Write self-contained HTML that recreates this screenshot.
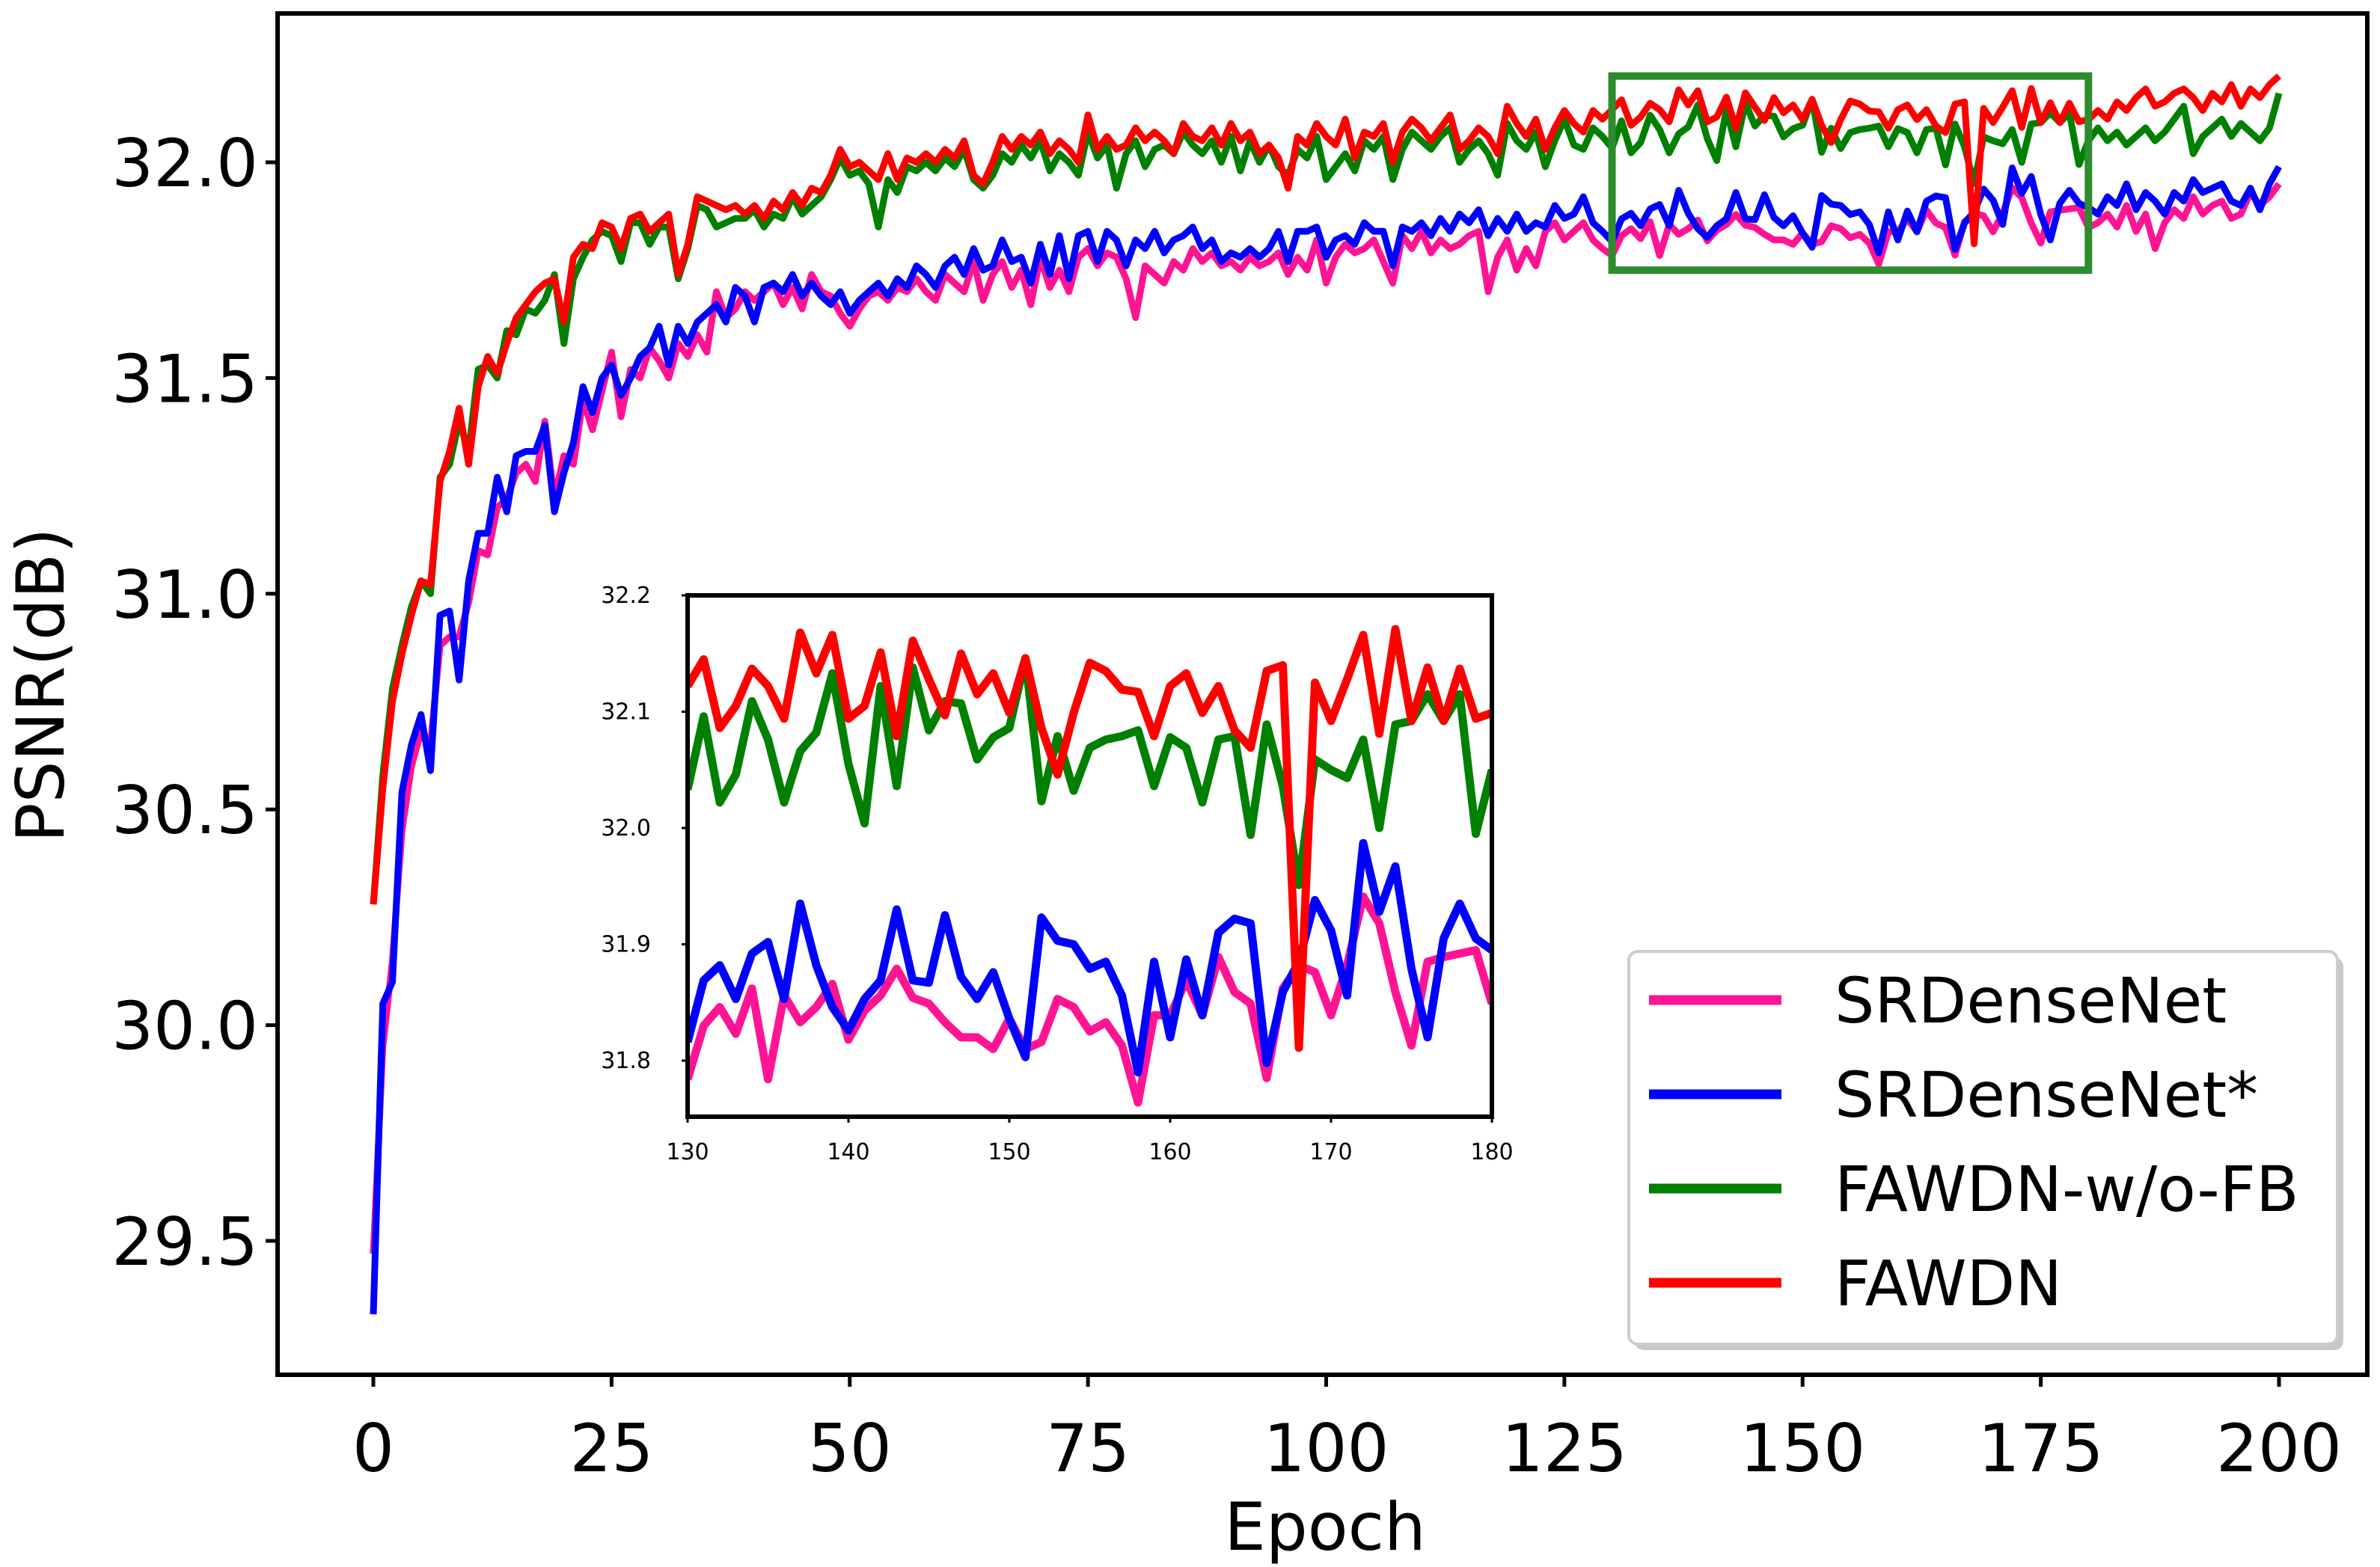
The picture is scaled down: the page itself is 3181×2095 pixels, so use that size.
<!DOCTYPE html>
<html><head><meta charset="utf-8">
<style>
html,body{margin:0;padding:0;background:#fff;overflow:hidden;}
svg{display:block;font-family:"DejaVu Sans","Liberation Sans",sans-serif;}
</style></head>
<body>
<svg id="chart" width="3181" height="2095" viewBox="0 0 3181 2095" xmlns="http://www.w3.org/2000/svg">
<rect width="3181" height="2095" fill="#fff"/>
</svg>
<script>
const epochsMax = 200;
const seriesNames = ["SRDenseNet","SRDenseNet*","FAWDN-w/o-FB","FAWDN"];
const seriesColors = ["#ff1493","#0000ff","#008000","#ff0000"];
const xTicks = [0,25,50,75,100,125,150,175,200];
const yTicks = [29.5,30.0,30.5,31.0,31.5,32.0];
const insetXTicks = [130,140,150,160,170,180];
const insetYTicks = [31.8,31.9,32.0,32.1,32.2];

// inset (epochs 130..180)
const redInset = [32.122,32.145,32.086,32.105,32.137,32.122,32.094,32.168,32.133,32.166,32.094,32.105,32.151,32.079,32.161,32.128,32.097,32.150,32.115,32.133,32.099,32.146,32.086,32.046,32.099,32.142,32.135,32.119,32.117,32.079,32.122,32.133,32.099,32.122,32.084,32.069,32.135,32.140,31.811,32.125,32.092,32.128,32.166,32.081,32.171,32.092,32.138,32.092,32.137,32.094,32.099];
const greenInset = [32.033,32.096,32.022,32.046,32.109,32.076,32.022,32.066,32.082,32.133,32.055,32.004,32.122,32.036,32.138,32.084,32.109,32.107,32.059,32.078,32.086,32.146,32.023,32.079,32.032,32.069,32.076,32.079,32.084,32.036,32.078,32.069,32.022,32.076,32.079,31.994,32.089,32.036,31.951,32.059,32.050,32.043,32.076,32.000,32.089,32.092,32.115,32.092,32.115,31.995,32.050];
const blueInset = [31.816,31.869,31.882,31.853,31.892,31.902,31.853,31.935,31.882,31.846,31.826,31.853,31.869,31.930,31.869,31.867,31.925,31.872,31.853,31.876,31.836,31.803,31.923,31.903,31.900,31.879,31.885,31.856,31.790,31.885,31.820,31.887,31.839,31.910,31.922,31.918,31.798,31.859,31.885,31.938,31.912,31.856,31.987,31.928,31.967,31.879,31.820,31.905,31.935,31.905,31.895];
const pinkInset = [31.784,31.830,31.846,31.823,31.862,31.784,31.856,31.833,31.846,31.866,31.818,31.843,31.856,31.879,31.854,31.849,31.833,31.820,31.820,31.810,31.836,31.810,31.816,31.853,31.846,31.825,31.833,31.813,31.764,31.839,31.839,31.869,31.839,31.889,31.859,31.849,31.785,31.862,31.882,31.876,31.839,31.882,31.941,31.918,31.859,31.813,31.885,31.889,31.892,31.895,31.849];

// epochs 0..129
const redHead = [30.28,30.55,30.75,30.86,30.95,31.03,31.02,31.26,31.33,31.43,31.30,31.48,31.55,31.51,31.58,31.64,31.67,31.70,31.72,31.73,31.63,31.78,31.81,31.80,31.86,31.85,31.80,31.87,31.88,31.84,31.86,31.88,31.74,31.81,31.92,31.91,31.90,31.89,31.90,31.88,31.90,31.87,31.91,31.89,31.93,31.90,31.94,31.93,31.97,32.03,31.99,32.00,31.98,31.96,32.02,31.96,32.01,32.00,32.02,32.00,32.03,32.01,32.05,31.97,31.95,32.00,32.06,32.03,32.06,32.04,32.07,32.02,32.05,32.03,32.00,32.11,32.03,32.06,32.03,32.04,32.08,32.05,32.07,32.05,32.02,32.09,32.06,32.05,32.08,32.04,32.09,32.05,32.07,32.02,32.04,32.01,31.94,32.06,32.04,32.09,32.06,32.04,32.10,32.01,32.07,32.06,32.09,32.00,32.07,32.10,32.08,32.05,32.08,32.11,32.03,32.05,32.08,32.06,32.02,32.13,32.09,32.06,32.10,32.03,32.08,32.12,32.09,32.07,32.12,32.10];
const greenHead = [30.28,30.58,30.78,30.88,30.97,31.03,31.00,31.27,31.30,31.40,31.33,31.52,31.53,31.50,31.61,31.60,31.66,31.65,31.68,31.74,31.58,31.73,31.78,31.82,31.84,31.83,31.77,31.86,31.86,31.81,31.85,31.85,31.73,31.80,31.90,31.89,31.85,31.86,31.87,31.87,31.89,31.85,31.88,31.87,31.92,31.88,31.90,31.92,31.96,32.01,31.97,31.98,31.95,31.85,31.96,31.93,31.99,31.98,32.00,31.98,32.01,31.99,32.03,31.96,31.94,31.97,32.02,32.00,32.04,32.01,32.05,31.98,32.02,32.00,31.97,32.07,32.01,32.04,31.94,32.02,32.05,31.99,32.03,32.04,32.02,32.07,32.04,32.02,32.05,32.00,32.06,31.98,32.05,32.00,32.04,31.99,31.97,32.03,32.01,32.06,31.96,31.99,32.02,31.98,32.05,32.03,32.06,31.96,32.03,32.07,32.05,32.03,32.06,32.08,32.00,32.03,32.05,32.02,31.97,32.09,32.05,32.03,32.07,31.99,32.05,32.10,32.04,32.03,32.08,32.06];
const blueHead = [29.33,30.05,30.10,30.54,30.65,30.72,30.59,30.95,30.96,30.80,31.03,31.14,31.14,31.27,31.19,31.32,31.33,31.33,31.39,31.19,31.28,31.35,31.48,31.42,31.50,31.53,31.46,31.50,31.55,31.57,31.62,31.53,31.62,31.58,31.63,31.65,31.67,31.63,31.71,31.69,31.63,31.71,31.72,31.70,31.74,31.69,31.72,31.69,31.67,31.70,31.65,31.68,31.70,31.72,31.69,31.73,31.71,31.76,31.74,31.71,31.76,31.78,31.74,31.80,31.75,31.76,31.82,31.77,31.78,31.72,31.81,31.74,31.83,31.73,31.83,31.84,31.77,31.84,31.82,31.76,31.82,31.80,31.84,31.79,31.82,31.83,31.85,31.80,31.82,31.77,31.79,31.78,31.80,31.78,31.80,31.84,31.77,31.84,31.84,31.85,31.78,31.82,31.83,31.81,31.86,31.84,31.84,31.76,31.85,31.84,31.86,31.83,31.87,31.84,31.88,31.86,31.89,31.83,31.87,31.84,31.88,31.84,31.86,31.85,31.90,31.87,31.88,31.92,31.86,31.84];
const pinkHead = [29.47,29.95,30.15,30.45,30.60,30.68,30.65,30.88,30.90,30.90,30.98,31.10,31.09,31.20,31.22,31.28,31.30,31.26,31.40,31.22,31.32,31.30,31.45,31.38,31.47,31.56,31.41,31.52,31.50,31.57,31.54,31.50,31.58,31.55,31.60,31.56,31.70,31.64,31.66,31.70,31.68,31.70,31.72,31.67,31.71,31.66,31.74,31.70,31.69,31.65,31.62,31.66,31.69,31.70,31.68,31.71,31.70,31.73,31.70,31.68,31.74,31.72,31.70,31.77,31.68,31.74,31.77,31.71,31.75,31.67,31.78,31.71,31.75,31.70,31.78,31.80,31.76,31.79,31.78,31.73,31.64,31.76,31.74,31.72,31.77,31.75,31.80,31.77,31.79,31.76,31.77,31.75,31.78,31.76,31.77,31.79,31.74,31.78,31.75,31.82,31.72,31.78,31.81,31.79,31.80,31.82,31.77,31.72,31.83,31.80,31.84,31.79,31.82,31.80,31.81,31.83,31.84,31.70,31.78,31.82,31.75,31.80,31.76,31.84,31.86,31.82,31.84,31.86,31.82,31.80];

// epochs 181..200
const redTail = [32.12,32.10,32.14,32.12,32.15,32.17,32.13,32.14,32.16,32.17,32.15,32.12,32.16,32.14,32.18,32.13,32.17,32.15,32.18,32.20];
const greenTail = [32.08,32.05,32.07,32.04,32.06,32.08,32.05,32.07,32.10,32.13,32.02,32.06,32.08,32.10,32.06,32.09,32.07,32.05,32.08,32.16];
const blueTail = [31.88,31.92,31.90,31.95,31.89,31.93,31.91,31.88,31.93,31.91,31.96,31.93,31.94,31.95,31.91,31.90,31.94,31.89,31.95,31.99];
const pinkTail = [31.86,31.88,31.85,31.90,31.84,31.88,31.80,31.86,31.89,31.87,31.92,31.88,31.90,31.91,31.87,31.88,31.93,31.90,31.92,31.95];

const svg = document.getElementById('chart');
const NS = 'http://www.w3.org/2000/svg';
function mk(tag, attrs, parent){
  const e = document.createElementNS(NS, tag);
  for (const k in attrs) e.setAttribute(k, attrs[k]);
  (parent||svg).appendChild(e);
  return e;
}

const AX = {l:371, r:3164, t:18, b:1838};
const xMain = v => 499 + v*(3046-499)/200;
const yMain = v => 217 + (32.0 - v)*288.4/0.5;

const mainSeries = [
  pinkHead.concat(pinkInset, pinkTail),
  blueHead.concat(blueInset, blueTail),
  greenHead.concat(greenInset, greenTail),
  redHead.concat(redInset, redTail)
];
const insetSeries = [pinkInset, blueInset, greenInset, redInset];
const seriesKeys = ['srdensenet','srdensenet-star','fawdn-wo-fb','fawdn'];

const defs = mk('defs', {});
const cp = mk('clipPath', {id:'mainclip'}, defs);
mk('rect', {x:AX.l, y:AX.t, width:AX.r-AX.l, height:AX.b-AX.t}, cp);
const cp2 = mk('clipPath', {id:'insetclip'}, defs);
mk('rect', {x:919, y:796, width:1994-919, height:1493-796}, cp2);

const gLines = mk('g', {'clip-path':'url(#mainclip)'});


mainSeries.forEach((arr, si) => {
  const pts = arr.map((v,i)=> xMain(i).toFixed(1)+','+yMain(v).toFixed(1)).join(' ');
  const pl = mk('polyline', {points:pts, fill:'none', stroke:seriesColors[si], 'stroke-width':9, 'stroke-linejoin':'round'}, gLines);
  
  
});

const zr = mk('rect', {x:xMain(130), y:yMain(32.2), width:xMain(180)-xMain(130), height:yMain(31.75)-yMain(32.2), fill:'none', stroke:'#2e8b2e', 'stroke-width':10});



const fr = mk('rect', {x:AX.l, y:AX.t, width:AX.r-AX.l, height:AX.b-AX.t, fill:'none', stroke:'#000', 'stroke-width':6});



xTicks.forEach(t => {
  const x = xMain(t);
  const tl = mk('line', {x1:x, y1:AX.b, x2:x, y2:AX.b+16, stroke:'#000', 'stroke-width':5});
  
  
  const tx = mk('text', {x:x, y:1967, 'font-size':88, 'text-anchor':'middle', fill:'#000'});
  tx.textContent = t;
  
  
});
yTicks.forEach(t => {
  const y = yMain(t);
  const tl = mk('line', {x1:AX.l-16, y1:y, x2:AX.l, y2:y, stroke:'#000', 'stroke-width':5});
  
  
  const tx = mk('text', {x:345, y:y+32, 'font-size':88, 'text-anchor':'end', fill:'#000'});
  tx.textContent = t.toFixed(1);
  
  
});
const xl = mk('text', {x:1771, y:2072, 'font-size':88, 'text-anchor':'middle', fill:'#000'});
xl.textContent = 'Epoch';


const yl = mk('text', {x:0, y:0, 'font-size':88, 'text-anchor':'middle', fill:'#000', transform:'translate(85,916) rotate(-90)'});
yl.textContent = 'PSNR(dB)';



const IN = {l:919, r:1994, t:796, b:1493};
const xIn = v => IN.l + (v-130)*(IN.r-IN.l)/50;
const yIn = v => IN.t + (32.2 - v)*(1418-796)/0.4;
const ib = mk('rect', {x:IN.l, y:IN.t, width:IN.r-IN.l, height:IN.b-IN.t, fill:'#fff'});


const gIn = mk('g', {'clip-path':'url(#insetclip)'});


insetSeries.forEach((arr, si) => {
  const pts = arr.map((v,i)=> xIn(130+i).toFixed(1)+','+yIn(v).toFixed(1)).join(' ');
  const pl = mk('polyline', {points:pts, fill:'none', stroke:seriesColors[si], 'stroke-width':11, 'stroke-linejoin':'round'}, gIn);
  
  
});
const ifr = mk('rect', {x:IN.l, y:IN.t, width:IN.r-IN.l, height:IN.b-IN.t, fill:'none', stroke:'#000', 'stroke-width':6});


insetXTicks.forEach(t => {
  const x = xIn(t);
  mk('line', {x1:x, y1:IN.b, x2:x, y2:IN.b+8, stroke:'#000', 'stroke-width':3});
  const tx = mk('text', {x:x, y:1550, 'font-size':30, 'text-anchor':'middle', fill:'#000'});
  tx.textContent = t;
  
  
});
insetYTicks.forEach(t => {
  const y = yIn(t);
  mk('line', {x1:IN.l-8, y1:y, x2:IN.l, y2:y, stroke:'#000', 'stroke-width':3});
  const tx = mk('text', {x:870, y:y+10, 'font-size':30, 'text-anchor':'end', fill:'#000'});
  tx.textContent = t.toFixed(1);
  
  
});

const lg = mk('g', {});


mk('rect', {x:2185, y:1280, width:947, height:525, rx:12, fill:'#c8c8c8'}, lg);
mk('rect', {x:2177, y:1272, width:947, height:525, rx:12, fill:'#fff', stroke:'#cccccc', 'stroke-width':4}, lg);
const legY = [1337,1463,1589,1715];
seriesNames.forEach((n, i) => {
  const e = mk('g', {}, lg);
  
  
  mk('line', {x1:2204, y1:legY[i], x2:2381, y2:legY[i], stroke:seriesColors[i], 'stroke-width':13}, e);
  const t = mk('text', {x:2452, y:legY[i]+30, 'font-size':84, fill:'#000'}, e);
  t.textContent = n;
});
</script>
</body></html>
